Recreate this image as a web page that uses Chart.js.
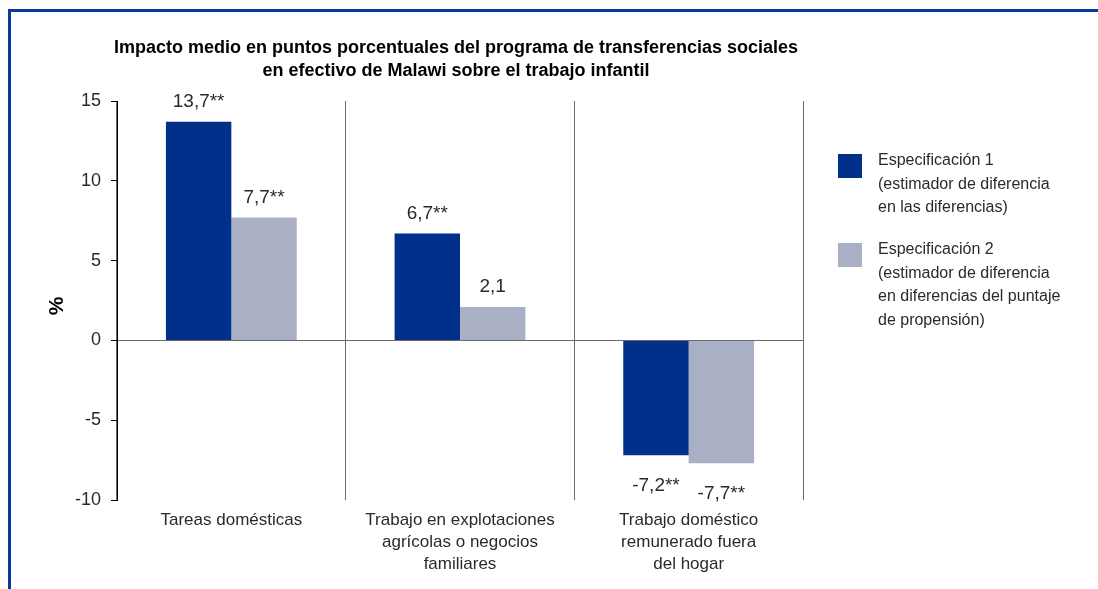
<!DOCTYPE html>
<html>
<head>
<meta charset="utf-8">
<script src="https://cdn.jsdelivr.net/npm/chart.js@4.4.1/dist/chart.umd.min.js"></script>
<style>
  html, body { margin: 0; padding: 0; background: #fff; }
  #wrap { position: relative; width: 1098px; height: 589px; overflow: hidden; }
  #frame { position: absolute; left: 8px; top: 9px; width: 1200px; height: 700px;
           border-top: 3px solid #0b3a97; border-left: 3px solid #0b3a97; pointer-events: none; }
  canvas { position: absolute; left: 0; top: 0; }
</style>
</head>
<body>
<div id="wrap">
  <canvas id="c" width="1098" height="589"></canvas>
  <div id="frame"></div>
</div>
<script>
// ---- data ----
const categories = [
  ["Tareas domésticas"],
  ["Trabajo en explotaciones", "agrícolas o negocios", "familiares"],
  ["Trabajo doméstico", "remunerado fuera", "del hogar"]
];
const spec1Values = [13.7, 6.7, -7.2];
const spec2Values = [7.7, 2.1, -7.7];
const spec1Labels = ["13,7**", "6,7**", "-7,2**"];
const spec2Labels = ["7,7**", "2,1", "-7,7**"];
const legendSpec1 = ["Especificación 1", "(estimador de diferencia", "en las diferencias)"];
const legendSpec2 = ["Especificación 2", "(estimador de diferencia", "en diferencias del puntaje", "de propensión)"];
const titleLines = ["Impacto medio en puntos porcentuales del programa de transferencias sociales",
                    "en efectivo de Malawi sobre el trabajo infantil"];
const yTicks = [-10, -5, 0, 5, 10, 15];
const yAxisTitle = "%";

const DARK = "#00308a";
const LIGHT = "#a9afc4";
const FONT = "'Liberation Sans', Arial, sans-serif";
const TEXT = "#2a2a2a";

const pointLabels = [spec1Labels, spec2Labels];

const overlay = {
  id: "overlay",
  afterDatasetsDraw(chart) {
    const ctx = chart.ctx;
    ctx.save();
    // data labels
    ctx.font = "19px " + FONT;
    ctx.fillStyle = TEXT;
    ctx.textAlign = "center";
    ctx.textBaseline = "middle";
    chart.data.datasets.forEach((ds, di) => {
      const meta = chart.getDatasetMeta(di);
      meta.data.forEach((bar, i) => {
        const v = ds.data[i];
        const y = v >= 0 ? bar.y - 20 : bar.y + 30;
        ctx.fillText(pointLabels[di][i], bar.x, y);
      });
    });
    // title
    ctx.font = "bold 18px " + FONT;
    ctx.fillStyle = "#000";
    const tx = 456;
    ctx.fillText(titleLines[0], tx, 48);
    ctx.fillText(titleLines[1], tx, 71);
    // y axis title
    ctx.save();
    ctx.translate(57, 306);
    ctx.rotate(-Math.PI / 2);
    ctx.font = "bold 21px " + FONT;
    ctx.fillStyle = "#000";
    ctx.fillText(yAxisTitle, 0, 0);
    ctx.restore();
    // legend
    const legends = [legendSpec1, legendSpec2];
    const tops = [154, 243];
    ctx.textAlign = "left";
    ctx.font = "16px " + FONT;
    chart.data.datasets.forEach((ds, di) => {
      ctx.fillStyle = ds.backgroundColor;
      ctx.fillRect(838, tops[di], 24, 24);
      ctx.fillStyle = TEXT;
      legends[di].forEach((line, li) => {
        ctx.fillText(line, 878, tops[di] + 7 + li * 23.4);
      });
    });
    ctx.restore();
  }
};

new Chart(document.getElementById("c"), {
  type: "bar",
  data: {
    labels: categories,
    datasets: [
      { label: legendSpec1.join(" "), data: spec1Values, backgroundColor: DARK,
        categoryPercentage: 0.572, barPercentage: 1.0 },
      { label: legendSpec2.join(" "), data: spec2Values, backgroundColor: LIGHT,
        categoryPercentage: 0.572, barPercentage: 1.0 }
    ]
  },
  options: {
    responsive: false,
    animation: false,
    layout: { padding: { left: 0, top: 101, right: 295, bottom: 0 } },
    plugins: { legend: { display: false }, title: { display: false }, tooltip: { enabled: false } },
    scales: {
      x: {
        afterFit(s) { s.height = 89; },
        border: { display: false },
        grid: { offset: true, color: "#6b6b6b", lineWidth: 1, drawTicks: false },
        ticks: { color: TEXT, font: { family: FONT, size: 17, lineHeight: 1.27 }, padding: 10, maxRotation: 0, autoSkip: false }
      },
      y: {
        min: -10, max: 15,
        afterFit(s) { s.width = 117; },
        afterBuildTicks(s) { s.ticks = yTicks.map(v => ({ value: v })); },
        border: { display: true, color: "#000", width: 1 },
        grid: {
          color: ctx => (ctx.tick && ctx.tick.value === 0) ? "#6b6b6b" : "rgba(0,0,0,0)",
          tickColor: "#000", tickLength: 6, lineWidth: 1
        },
        ticks: { color: TEXT, font: { family: FONT, size: 18 }, padding: 10 }
      }
    }
  },
  plugins: [overlay]
});
</script>
</body>
</html>
